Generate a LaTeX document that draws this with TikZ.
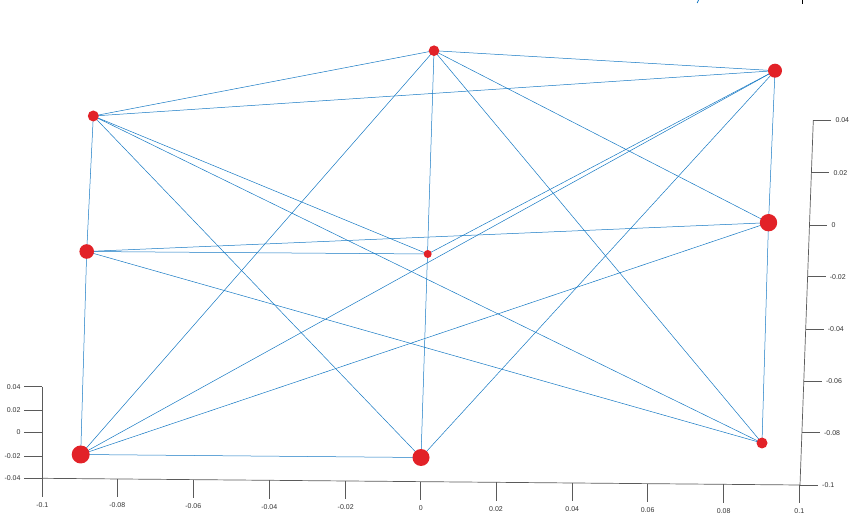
\documentclass[tikz,border=0pt]{standalone}
\usepackage{fontspec}
\setmainfont{Liberation Sans}
\definecolor{edgeblue}{RGB}{20,120,195}
\definecolor{dotred}{RGB}{226,34,40}
\definecolor{axisgray}{RGB}{90,90,90}
\tikzset{
  vert/.style={circle,fill=dotred,draw=none,inner sep=0pt,minimum size=#1},
  edge/.style={draw=edgeblue,line width=0.5pt},
  axisline/.style={draw=axisgray,line width=0.7pt},
  ticklab/.style={font=\fontsize{7}{8}\selectfont,text=black!80,inner sep=0pt}
}
\begin{document}
\begin{tikzpicture}[x=1pt,y=-1pt]
\useasboundingbox (0,0) rectangle (855,521);
% vertices
\coordinate (pA) at (434,50.7);
\coordinate (pB) at (775,70.7);
\coordinate (pC) at (93.3,116);
\coordinate (pD) at (86.7,251.5);
\coordinate (pE) at (427.7,254);
\coordinate (pF) at (768.5,222.7);
\coordinate (pG) at (80.7,454.5);
\coordinate (pH) at (421,457.5);
\coordinate (pI) at (762,443);
% edges
\foreach \a/\b in {pA/pB,pA/pC,pA/pG,pA/pH,pA/pF,pA/pI,
                   pB/pC,pB/pF,pB/pE,pB/pG,pB/pH,
                   pC/pD,pC/pE,pC/pI,pC/pH,
                   pD/pG,pD/pE,pD/pF,pD/pI,
                   pF/pI,pF/pG,pG/pH}
  \draw[edge] (\a) -- (\b);
% vertex dots
\node[vert=10.6pt] (A) at (pA) {};
\node[vert=14pt]   (B) at (pB) {};
\node[vert=11pt]   (C) at (pC) {};
\node[vert=14.6pt] (D) at (pD) {};
\node[vert=8pt]    (E) at (pE) {};
\node[vert=17.4pt] (F) at (pF) {};
\node[vert=18pt]   (G) at (pG) {};
\node[vert=17pt]   (H) at (pH) {};
\node[vert=11pt]   (I) at (pI) {};
% left vertical axis
\coordinate (lz0) at (42.3,386.7);
\coordinate (lz1) at (42.3,478.3);
\draw[axisline] (lz0) -- (lz1);
\foreach \y/\l in {386.7/0.04,410/0.02,432.3/0,456/-0.02,478.3/-0.04}{
  \draw[axisline] (24,\y) -- (42.3,\y);
  \node[ticklab,anchor=east] at (20.7,\y) {\l};
}
% bottom axis
\coordinate (bx0) at (42.3,478.3);
\coordinate (bx1) at (800,485);
\draw[axisline] (bx0) -- (bx1);
\foreach \x/\l [count=\i from 0] in {42.3/-0.1,117.3/-0.08,193.3/-0.06,269.3/-0.04,345.7/-0.02,420.7/0,496/0.02,572.3/0.04,647.7/0.06,723.7/0.08,799.3/0.1}{
  \pgfmathsetmacro{\yt}{478.3+0.00885*(\x-42.3)}
  \draw[axisline] (\x,\yt) -- (\x,\yt+18.5);
  \node[ticklab,anchor=center] at (\x,\yt+26.5) {\l};
}
% right vertical axis
\coordinate (ry0) at (813.3,120.5);
\coordinate (ry1) at (800,485);
\draw[axisline] (ry0) -- (ry1);
\foreach \y/\l in {120.5/0.04,172.7/0.02,225/0,276.7/-0.02,329/-0.04,381/-0.06,432.7/-0.08,485/-0.1}{
  \pgfmathsetmacro{\xa}{813.3-(\y-120.5)*13.3/364.5}
  \draw[axisline] (\xa,\y) -- (\xa+18,\y);
  \node[ticklab,anchor=west] at (\xa+22,\y) {\l};
}
% small fragments at the top edge
\draw[edgeblue,line width=0.8pt] (697.2,3) -- (698.6,0);
\draw[black,line width=0.8pt] (802.3,0) -- (802.3,4);
\end{tikzpicture}
\end{document}
